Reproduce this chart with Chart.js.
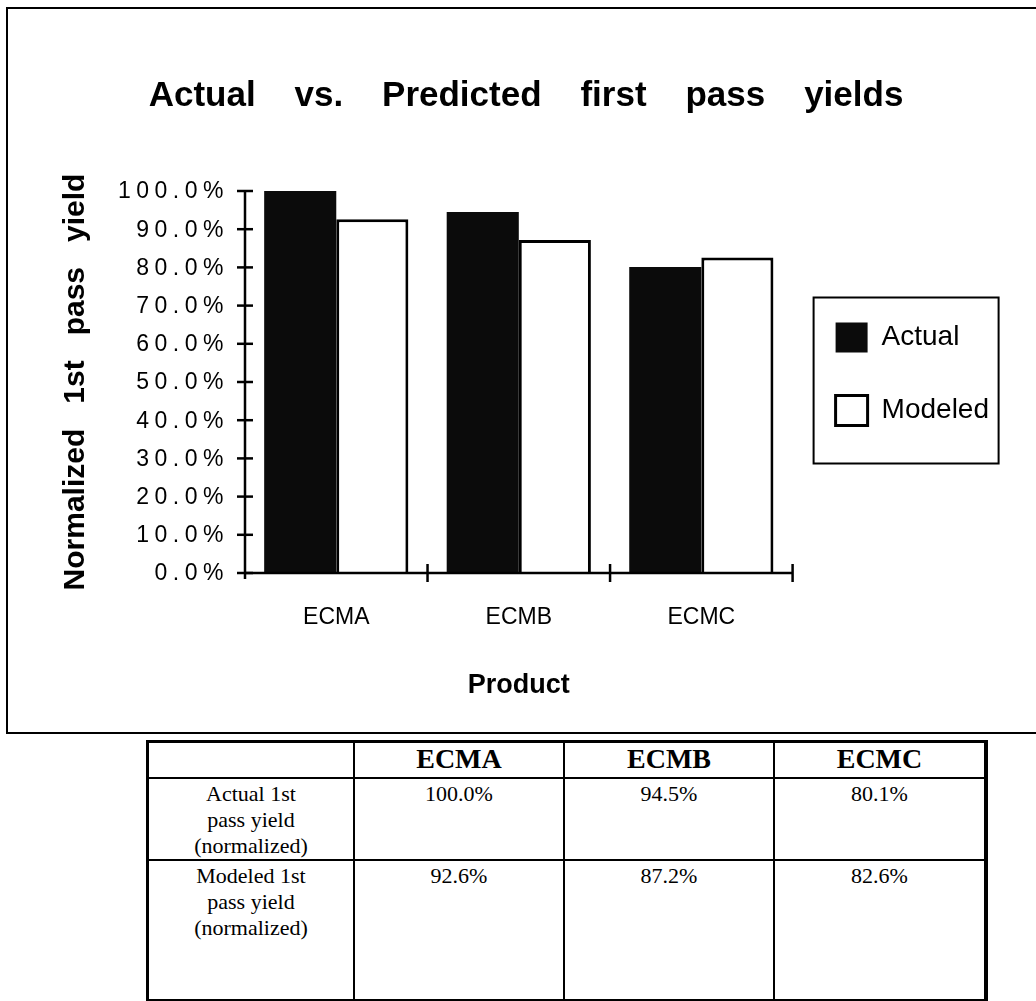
<!DOCTYPE html>
<html>
<head>
<meta charset="utf-8">
<title>Actual vs. Predicted first pass yields</title>
<script src="https://cdn.jsdelivr.net/npm/chart.js@4.4.1/dist/chart.umd.min.js"></script>
<style>
  html, body { margin: 0; padding: 0; background: #fff; }
  #page { position: relative; width: 1036px; height: 1001px; overflow: hidden; background: #fff; }
  #frame { position: absolute; left: 6px; top: 7px; width: 1045px; height: 723px; border: 2px solid #000; }
  #yieldChart { position: absolute; left: 0; top: 0; }
  #yieldTable { position: absolute; left: 146px; top: 740px; border-collapse: collapse;
    font-family: "Liberation Serif", "Times New Roman", serif; color: #000; }
  #yieldTable th, #yieldTable td { border: 2px solid #000; text-align: center; vertical-align: top; padding: 0; }
  #yieldTable tr:first-child th { border-top: 3px solid #000; }
  #yieldTable th:last-child, #yieldTable td:last-child { border-right: 4px solid #000; }
  #yieldTable th:first-child, #yieldTable td:first-child { border-left: 3px solid #000; }
  #yieldTable th { font-size: 28px; font-weight: bold; height: 34px; line-height: 32px; }
  #yieldTable td { font-size: 22px; line-height: 26px; padding-top: 2px; }
  #yieldTable tr.r1 td { height: 78px; }
  #yieldTable tr.r2 td { height: 136px; }
</style>
</head>
<body>
<div id="page">
  <div id="frame"></div>
  <canvas id="yieldChart" width="1036" height="740"></canvas>
  <table id="yieldTable"></table>
</div>

<script>
// chart data
const categories = ['ECMA', 'ECMB', 'ECMC'];
const seriesNames = ['Actual', 'Modeled'];
const actualYield = [100.0, 94.5, 80.1];
const modeledYield = [92.6, 87.2, 82.6];
const rowLabels = [
  ['Actual 1st', 'pass yield', '(normalized)'],
  ['Modeled 1st', 'pass yield', '(normalized)']
];

const chartTitle = 'Actual vs. Predicted first pass yields';
const yTitle = 'Normalized 1st pass yield';
const xTitle = 'Product';

const sans = '"Liberation Sans", Arial, Helvetica, sans-serif';
let chart;

function pct(v) {
  return v.toFixed(1) + '%';
}

// crossing tick marks, axis lines, spaced y labels and the legend frame
const axisDecor = {
  id: 'axisDecor',
  afterLayout(c) {
    // lift the legend a little, the original sits above centre
    c.legend.top -= 16;
  },
  afterDraw(c) {
    const ctx = c.ctx;
    const x = c.scales.x;
    const y = c.scales.y;
    ctx.save();
    ctx.strokeStyle = '#000';
    ctx.lineWidth = 2.5;

    // axis lines
    ctx.beginPath();
    ctx.moveTo(x.left, y.top - 1);
    ctx.lineTo(x.left, y.bottom + 6);
    ctx.moveTo(x.left, y.bottom);
    ctx.lineTo(x.right, y.bottom);
    ctx.stroke();

    // y ticks
    y.ticks.forEach(t => {
      const py = y.getPixelForValue(t.value);
      ctx.beginPath();
      ctx.moveTo(x.left - 8, py);
      ctx.lineTo(x.left + 8, py);
      ctx.stroke();
    });

    // x category separators
    const half = (x.getPixelForValue(1) - x.getPixelForValue(0)) / 2;
    for (let i = 0; i < categories.length; i++) {
      const px = x.getPixelForValue(i) + half;
      ctx.beginPath();
      ctx.moveTo(px, y.bottom - 9);
      ctx.lineTo(px, y.bottom + 9);
      ctx.stroke();
    }

    // y tick labels (wide tracking like the original)
    ctx.fillStyle = '#000';
    ctx.font = '23px ' + sans;
    ctx.letterSpacing = '5.5px';
    ctx.textAlign = 'right';
    ctx.textBaseline = 'middle';
    y.ticks.forEach(t => {
      ctx.fillText(pct(t.value), x.left - 16, y.getPixelForValue(t.value) + 1);
    });
    ctx.letterSpacing = '0px';

    // box around the legend
    const hb = c.legend.legendHitBoxes;
    if (hb && hb.length) {
      ctx.lineWidth = 2;
      ctx.strokeRect(hb[0].left - 22, hb[0].top - 25, 185, 166);
    }
    ctx.restore();
  }
};

function draw_chart() {
  const ctx = document.getElementById('yieldChart').getContext('2d');

  chart = new Chart(ctx, {
    type: 'bar',
    data: {
      labels: categories,
      datasets: [{
        label: seriesNames[0],
        data: actualYield,
        backgroundColor: '#0b0b0b',
        borderColor: '#0b0b0b',
        borderWidth: 0
      }, {
        label: seriesNames[1],
        data: modeledYield,
        backgroundColor: '#ffffff',
        borderColor: '#000000',
        borderWidth: 3
      }]
    },
    options: {
      responsive: false,
      animation: false,
      layout: { padding: { left: 53, right: 37, top: 0, bottom: 38 } },
      datasets: { bar: { categoryPercentage: 0.79, barPercentage: 1 } },
      plugins: {
        title: {
          display: true,
          text: chartTitle.split(' ').join('    '),
          color: '#000',
          font: { family: sans, size: 35, weight: 'bold' },
          padding: { top: 75, bottom: 74 }
        },
        legend: {
          position: 'right',
          fullSize: false,
          labels: {
            boxWidth: 32,
            boxHeight: 30,
            padding: 43,
            color: '#000',
            font: { family: sans, size: 28 }
          }
        },
        tooltip: { enabled: false }
      },
      scales: {
        x: {
          grid: { display: false, drawTicks: false },
          border: { display: false },
          ticks: { padding: 31, color: '#000', font: { family: sans, size: 23 } },
          title: {
            display: true,
            text: xTitle,
            color: '#000',
            font: { family: sans, size: 27, weight: 'bold' },
            padding: { top: 0, bottom: 0 }
          },
          afterFit(s) { s.height = 129; }
        },
        y: {
          min: 0,
          max: 100,
          ticks: { stepSize: 10, display: false },
          grid: { display: false, drawTicks: false },
          border: { display: false },
          title: {
            display: true,
            text: yTitle.split(' ').join('   '),
            color: '#000',
            font: { family: sans, size: 30, weight: 'bold' },
            padding: { top: 5, bottom: 0 }
          },
          afterFit(s) { s.width = 192; }
        }
      }
    },
    plugins: [axisDecor]
  });
}

function fill_table() {
  const table = document.getElementById('yieldTable');
  const widths = [204, 208, 208, 209];
  const values = [actualYield, modeledYield];

  table.innerHTML = `
    <tr>
      <th style="width:${widths[0]}px"></th>
      ${categories.map((c, i) => `<th style="width:${widths[i + 1]}px">${c}</th>`).join('')}
    </tr>
    ${values.map((row, r) => `
    <tr class="r${r + 1}">
      <td>${rowLabels[r].join('<br>')}</td>
      ${row.map(v => `<td>${pct(v)}</td>`).join('')}
    </tr>`).join('')}
  `;
}

draw_chart();
fill_table();
</script>
</body>
</html>
